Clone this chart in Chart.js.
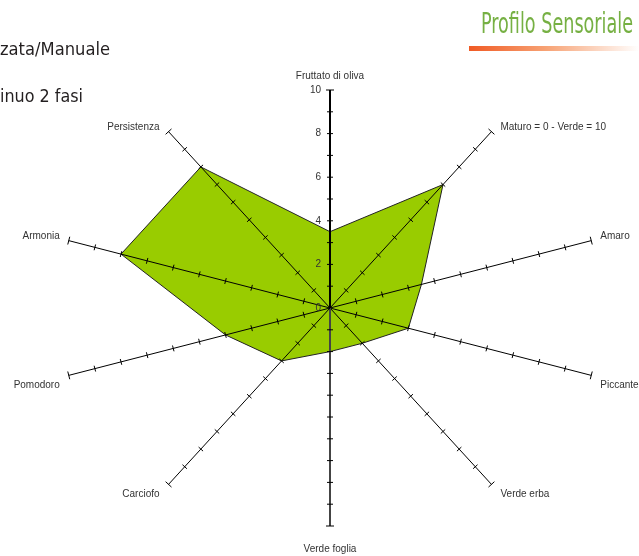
<!DOCTYPE html>
<html>
<head>
<meta charset="utf-8">
<script src="https://cdn.jsdelivr.net/npm/chart.js@4.4.1/dist/chart.umd.min.js"></script>
<style>
  html, body { margin: 0; padding: 0; background: #fff; }
  #page { position: relative; width: 639px; height: 556px; overflow: hidden; }
  #radar { position: absolute; left: 0; top: 0; }
  .head { position: absolute; white-space: nowrap; line-height: 1; font-family: "Liberation Sans Narrow", "DejaVu Sans Condensed", "Liberation Sans", sans-serif; transform-origin: left top; }
  #title { left: 481px; top: 9px; font-size: 29px; color: #76b043; }
  #rule { position: absolute; left: 469px; top: 46px; width: 170px; height: 5px; background: linear-gradient(to right, #f05a24, #f7a274 45%, #ffffff); }
  .side { left: 0; font-size: 18px; color: #231f20; }
</style>
</head>
<body>
<div id="page">
  <canvas id="radar" width="639" height="556"></canvas>
  <div id="title" class="head">Profilo Sensoriale</div>
  <div id="rule"></div>
  <div id="line1" class="head side" style="top: 40px;">zata/Manuale</div>
  <div id="line2" class="head side" style="top: 87px;">inuo 2 fasi</div>
</div>
<script>
const attributes = [
  'Fruttato di oliva',
  'Maturo = 0 - Verde = 10',
  'Amaro',
  'Piccante',
  'Verde erba',
  'Verde foglia',
  'Carciofo',
  'Pomodoro',
  'Armonia',
  'Persistenza'
];
const scores = [3.5, 7, 3.5, 3, 2, 2, 3, 4, 8, 8];
const tickValues = [0, 1, 2, 3, 4, 5, 6, 7, 8, 9, 10];
const tickLabels = ['0', '', '2', '', '4', '', '6', '', '8', '', '10'];

// the original plot is wider than tall
const STRETCH_X = 1.26;

class EllipticRadialScale extends Chart.RadialLinearScale {
  getPointPosition(index, distance, additionalAngle = 0) {
    const pos = super.getPointPosition(index, distance, additionalAngle);
    return { x: this.xCenter + (pos.x - this.xCenter) * STRETCH_X, y: pos.y, angle: pos.angle };
  }
}
EllipticRadialScale.id = 'ellipticRadial';
EllipticRadialScale.defaults = Chart.RadialLinearScale.defaults;
Chart.register(EllipticRadialScale);

function fitWidth(id, width) {
  const el = document.getElementById(id);
  const w = el.getBoundingClientRect().width;
  el.style.transform = 'scaleX(' + (width / w) + ')';
}
fitWidth('title', 152);
fitWidth('line1', 110);
fitWidth('line2', 83);

const axesPlugin = {
  id: 'axesPlugin',
  afterDatasetsDraw(chart) {
    const scale = chart.scales.r;
    const ctx = chart.ctx;
    const cx = scale.xCenter;
    const cy = scale.yCenter;
    const maxVal = tickValues[tickValues.length - 1];
    ctx.save();

    attributes.forEach((name, i) => {
      const end = scale.getPointPositionForValue(i, maxVal);
      const vertical = i === 0 || i === attributes.length / 2;
      ctx.beginPath();
      ctx.moveTo(cx, cy);
      ctx.lineTo(end.x, end.y);
      ctx.lineWidth = vertical ? 2 : 1;
      ctx.strokeStyle = i === attributes.length / 2 ? '#444' : '#000';
      ctx.stroke();

      // small crossing ticks along each axis
      const len = Math.hypot(end.x - cx, end.y - cy);
      const nx = -(end.y - cy) / len;
      const ny = (end.x - cx) / len;
      ctx.lineWidth = 1;
      ctx.strokeStyle = '#000';
      tickValues.slice(1).forEach(v => {
        const p = scale.getPointPositionForValue(i, v);
        const half = v === maxVal ? 4 : 3;
        ctx.beginPath();
        ctx.moveTo(p.x - nx * half, p.y - ny * half);
        ctx.lineTo(p.x + nx * half, p.y + ny * half);
        ctx.stroke();
      });

      // axis name
      const s = Math.sin(i * 2 * Math.PI / attributes.length);
      const c = Math.cos(i * 2 * Math.PI / attributes.length);
      ctx.font = '10px "Liberation Sans", Arial, sans-serif';
      ctx.fillStyle = '#333';
      ctx.textBaseline = 'middle';
      if (Math.abs(s) < 0.01) {
        ctx.textAlign = 'center';
        ctx.fillText(name, end.x, c > 0 ? end.y - 14 : end.y + 23);
      } else {
        ctx.textAlign = s > 0 ? 'left' : 'right';
        ctx.fillText(name, end.x + (s > 0 ? 9 : -9), end.y + (c > 0 ? -4 : 10));
      }
    });

    // value labels on the first axis
    ctx.font = '10px "Liberation Sans", Arial, sans-serif';
    ctx.fillStyle = '#333';
    ctx.textAlign = 'right';
    ctx.textBaseline = 'middle';
    tickValues.forEach((v, k) => {
      if (!tickLabels[k]) return;
      const p = scale.getPointPositionForValue(0, v);
      ctx.fillText(tickLabels[k], p.x - 9, p.y);
    });
    ctx.restore();
  }
};

new Chart(document.getElementById('radar'), {
  type: 'radar',
  data: {
    labels: attributes,
    datasets: [{
      data: scores,
      backgroundColor: '#99cc00',
      borderColor: '#222',
      borderWidth: 1,
      pointRadius: 0,
      tension: 0,
      fill: true
    }]
  },
  options: {
    responsive: false,
    devicePixelRatio: 1,
    animation: false,
    layout: { padding: { left: 112, right: 91, top: 90, bottom: 30 } },
    plugins: { legend: { display: false }, tooltip: { enabled: false } },
    scales: {
      r: {
        type: 'ellipticRadial',
        min: 0,
        max: 10,
        ticks: { display: false, stepSize: 1 },
        grid: { display: false },
        angleLines: { display: false },
        pointLabels: { display: false }
      }
    }
  },
  plugins: [axesPlugin]
});
</script>
</body>
</html>
